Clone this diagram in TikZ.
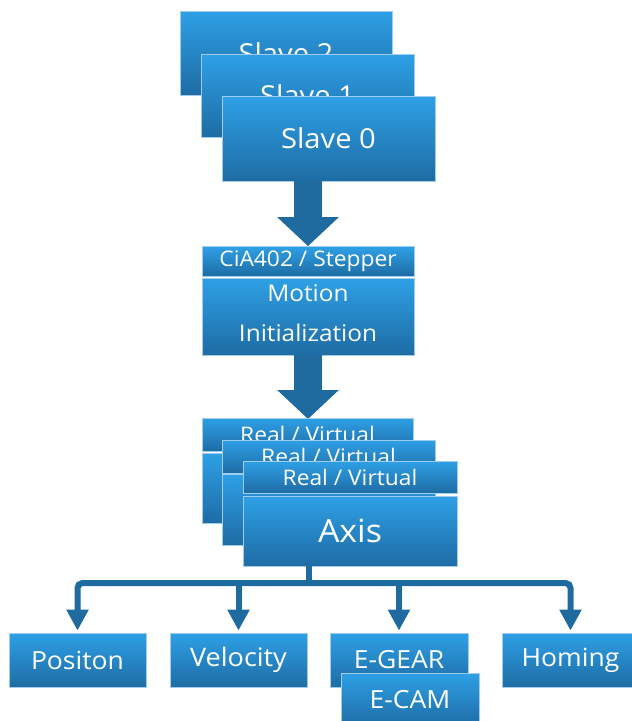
\documentclass[tikz,border=0pt]{standalone}
\usepackage{fontspec}
\setmainfont{Open Sans}[FakeStretch=1.06]
\usetikzlibrary{arrows.meta}
\definecolor{boxtop}{RGB}{46,160,230}
\definecolor{boxbot}{RGB}{30,108,164}
\definecolor{boxedge}{RGB}{160,205,235}
\definecolor{arrowc}{RGB}{31,106,158}
\newcommand{\fsz}[1]{\fontsize{#1}{#1}\selectfont}
\tikzset{
  box/.style={rectangle, draw=boxedge, line width=0.8pt, top color=boxtop, bottom color=boxbot,
    text=white, inner sep=0pt, align=center},
  blockarrow/.style={draw=arrowc, line width=28pt, line cap=butt,
    -{Triangle[length=29pt,width=60pt]}},
  conn/.style={draw=arrowc, line width=6pt, rounded corners=5pt},
  connarrow/.style={conn, -{Triangle[length=21pt,width=21pt]}, shorten >=2pt},
}
\begin{document}
\begin{tikzpicture}[x=1pt,y=-1pt]
\useasboundingbox (0,0) rectangle (632,721);
\clip (0,0) rectangle (632,721);
% slaves
\node[box, minimum width=212pt, minimum height=84pt, font=\fsz{27.5}] (s2) at (286,53) {Slave 2};
\node[box, minimum width=213pt, minimum height=83pt, font=\fsz{27.5}] (s1) at (307.5,95.5) {Slave 1};
\node[box, minimum width=213pt, minimum height=85pt, font=\fsz{27.5}] (s0) at (328.5,138.5) {Slave 0};
% motion
\node[box, minimum width=212pt, minimum height=30pt, font=\fsz{21.5}] (cia) at (308,261.5) {CiA402 / Stepper};
\node[box, minimum width=212pt, minimum height=77pt, font=\fontsize{23}{40}\selectfont] (mot) at (308,316.5) {Motion\\Initialization\rule[-6pt]{0pt}{6pt}};
% arrows
\draw[blockarrow] (s0.south -| cia.north) -- (cia.north);
\draw[blockarrow] (mot.south) -- ([yshift=-1pt]mot.south |- 0,418);
% axes
\node[box, minimum width=211pt, minimum height=33pt, font=\fsz{21.5}] (rv2) at (307.5,434.5) {Real / Virtual};
\node[box, minimum width=211pt, minimum height=70pt, font=\fsz{32}] (ax2) at (307.5,488) {Axis};
\node[box, minimum width=213pt, minimum height=33pt, font=\fsz{21.5}] (rv1) at (328.5,456.5) {Real / Virtual};
\node[box, minimum width=213pt, minimum height=71pt, font=\fsz{32}] (ax1) at (328.5,509.5) {Axis};
\node[box, minimum width=214pt, minimum height=32pt, font=\fsz{21.5}] (rv0) at (350,477) {Real / Virtual};
\node[box, minimum width=214pt, minimum height=70pt, font=\fsz{32}] (ax0) at (350,531) {Axis};
% modes
\node[box, minimum width=137pt, minimum height=54pt, font=\fsz{25}] (pos) at (77.5,660) {Positon};
\node[box, minimum width=137pt, minimum height=54pt, font=\fsz{25.5}] (vel) at (238.5,660) {Velocity};
\node[box, minimum width=138pt, minimum height=54pt, font=\fsz{25}] (eg) at (399,660) {E-GEAR};
\node[box, minimum width=137pt, minimum height=54pt, font=\fsz{25}] (hom) at (570.5,660) {Homing};
\node[box, minimum width=138pt, minimum height=54pt, font=\fsz{25}] (ec) at (410,700) {E-CAM};
% connectors
\coordinate (j) at (309,583);
\draw[conn] (ax0.south -| j) -- (j);
\draw[connarrow] (j) -| (pos.north);
\draw[connarrow] (j) -| (hom.north);
\draw[connarrow] (j -| vel.north) -- (vel.north);
\draw[connarrow] (j -| eg.north) -- (eg.north);
\end{tikzpicture}
\end{document}
